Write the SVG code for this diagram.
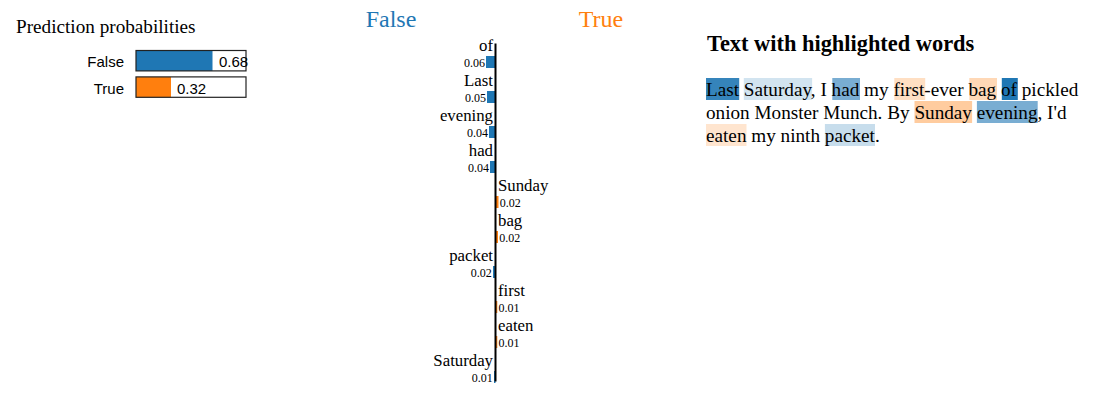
<svg xmlns="http://www.w3.org/2000/svg" width="1097" height="407" viewBox="0 0 1097 407">
<style>
.serif{font-family:"Liberation Serif","Times New Roman",serif;fill:#000}
.sans{font-family:"Liberation Sans",Arial,sans-serif;font-size:15px;fill:#000}
.lbl{font-size:16.8px}
.val{font-size:12px}
.neg{fill:#1f77b4}
.pos{fill:#ff7f0e}
.outline{fill:none;stroke:#222;stroke-width:1.2}
.para{font-size:19.2px}
</style>
<rect width="1097" height="407" fill="#fff"/>

<g id="prediction-probabilities">
  <text class="serif" x="16" y="33" font-size="19.2">Prediction probabilities</text>
  <g id="proba-false">
    <rect class="neg" x="136" y="50.5" width="76.5" height="20.4"/>
    <rect class="outline" x="136" y="50.5" width="110" height="20.4"/>
    <text class="sans" x="219" y="67.3">0.68</text>
    <text class="sans" x="124" y="67.3" text-anchor="end">False</text>
  </g>
  <g id="proba-true">
    <rect class="pos" x="136" y="76.9" width="35" height="20.4"/>
    <rect class="outline" x="136" y="76.9" width="110" height="20.4"/>
    <text class="sans" x="177" y="93.7">0.32</text>
    <text class="sans" x="124" y="93.7" text-anchor="end">True</text>
  </g>
</g>

<g id="feature-chart">
  <text class="serif neg" x="391" y="27" font-size="24" text-anchor="middle">False</text>
  <text class="serif pos" x="601" y="27" font-size="24" text-anchor="middle">True</text>

  <g id="f-of">
    <text class="serif lbl" x="493" y="51" text-anchor="end">of</text>
    <rect class="neg" x="486" y="56" width="9.5" height="12"/>
    <text class="serif val" x="485" y="66.5" text-anchor="end">0.06</text>
  </g>
  <g id="f-last">
    <text class="serif lbl" x="493" y="86" text-anchor="end">Last</text>
    <rect class="neg" x="487" y="91" width="8.5" height="12"/>
    <text class="serif val" x="486" y="101.5" text-anchor="end">0.05</text>
  </g>
  <g id="f-evening">
    <text class="serif lbl" x="493" y="121" text-anchor="end">evening</text>
    <rect class="neg" x="489" y="126" width="6.5" height="12"/>
    <text class="serif val" x="488" y="136.5" text-anchor="end">0.04</text>
  </g>
  <g id="f-had">
    <text class="serif lbl" x="493" y="156" text-anchor="end">had</text>
    <rect class="neg" x="490" y="161" width="5.5" height="12"/>
    <text class="serif val" x="489" y="171.5" text-anchor="end">0.04</text>
  </g>
  <g id="f-sunday">
    <text class="serif lbl" x="498" y="191">Sunday</text>
    <rect class="pos" x="495.5" y="196" width="3" height="12"/>
    <text class="serif val" x="499.7" y="206.5">0.02</text>
  </g>
  <g id="f-bag">
    <text class="serif lbl" x="498" y="226">bag</text>
    <rect class="pos" x="495.5" y="231" width="2.5" height="12"/>
    <text class="serif val" x="499.2" y="241.5">0.02</text>
  </g>
  <g id="f-packet">
    <text class="serif lbl" x="493" y="261" text-anchor="end">packet</text>
    <rect class="neg" x="493" y="266" width="2.5" height="12"/>
    <text class="serif val" x="491.8" y="276.5" text-anchor="end">0.02</text>
  </g>
  <g id="f-first">
    <text class="serif lbl" x="498" y="296">first</text>
    <rect class="pos" x="495.5" y="301" width="1.8" height="12"/>
    <text class="serif val" x="498.5" y="311.5">0.01</text>
  </g>
  <g id="f-eaten">
    <text class="serif lbl" x="498" y="331">eaten</text>
    <rect class="pos" x="495.5" y="336" width="1.8" height="12"/>
    <text class="serif val" x="498.5" y="346.5">0.01</text>
  </g>
  <g id="f-saturday">
    <text class="serif lbl" x="493" y="366" text-anchor="end">Saturday</text>
    <rect class="neg" x="494" y="371" width="1.5" height="12"/>
    <text class="serif val" x="492.8" y="381.5" text-anchor="end">0.01</text>
  </g>
</g>

<g id="connectors">
  <line x1="495.5" y1="43.5" x2="495.5" y2="381.5" stroke="#000" stroke-width="2"/>
</g>

<g id="highlighted-text">
  <text class="serif" x="707" y="51" font-size="22.4" font-weight="bold">Text with highlighted words</text>
  <g id="highlights">
    <rect class="neg" x="706" y="78" width="33.2" height="22" fill-opacity="0.9"/>
    <rect class="neg" x="743.8" y="78" width="68.3" height="22" fill-opacity="0.2"/>
    <rect class="neg" x="832.3" y="78" width="27.7" height="22" fill-opacity="0.6"/>
    <rect class="pos" x="894.3" y="78" width="30.9" height="22" fill-opacity="0.25"/>
    <rect class="pos" x="969.3" y="78" width="27.7" height="22" fill-opacity="0.3"/>
    <rect class="neg" x="1001.8" y="78" width="16" height="22" fill-opacity="1"/>
    <rect class="pos" x="914.5" y="101" width="57.6" height="22" fill-opacity="0.4"/>
    <rect class="neg" x="976.9" y="101" width="60.8" height="22" fill-opacity="0.6"/>
    <rect class="pos" x="706" y="124" width="40.5" height="22" fill-opacity="0.2"/>
    <rect class="neg" x="824.9" y="124" width="50.1" height="22" fill-opacity="0.25"/>
  </g>
  <text class="serif para" x="706" y="95.5">Last Saturday, I had my first-ever bag of pickled</text>
  <text class="serif para" x="706" y="118.5">onion Monster Munch. By Sunday evening, I'd</text>
  <text class="serif para" x="706" y="141.5">eaten my ninth packet.</text>
</g>
</svg>
